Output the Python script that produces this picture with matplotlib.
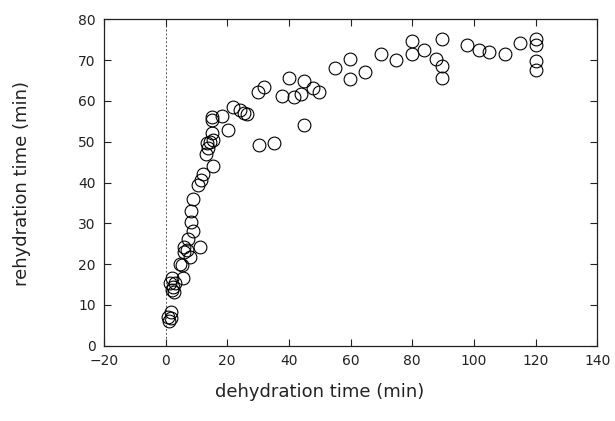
import matplotlib
matplotlib.use("Agg")
import matplotlib.pyplot as plt

# dehydration time (min)
dehydration = [
    0.9, 1.2, 1.7, 1.7, 1.5, 2.0, 2.5, 2.7, 3.1, 2.2,
    4.7, 5.8, 5.2, 6.0, 6.1, 6.8, 7.9, 7.2, 9.0, 11.2,
    8.2, 8.2, 9.0, 10.4, 11.5, 12.0, 15.3, 13.1, 13.9, 13.4,
    14.4, 15.3, 15.0, 15.0, 15.0, 18.2, 20.2, 22.0, 24.0,
    25.5, 26.3, 30.3, 35.2, 30.1, 32.0, 37.7, 40.0, 41.8, 43.9,
    44.9, 45.0, 47.7, 49.9, 54.9, 59.8, 59.8, 64.8, 69.9, 74.8,
    80.0, 80.0, 83.8, 87.7, 89.7, 89.7, 89.7, 97.8, 101.7, 104.9,
    110.0, 114.9, 120.0, 120.0, 120.0, 120.0,
]
# rehydration time (min)
rehydration = [
    7.1, 6.1, 6.7, 8.3, 15.4, 16.5, 14.4, 13.1, 15.3, 13.6,
    20.0, 16.5, 19.8, 23.0, 24.2, 23.4, 21.8, 26.1, 28.2, 24.2,
    30.4, 33.0, 35.9, 39.3, 40.5, 42.2, 44.1, 47.1, 48.4, 49.6,
    50.0, 50.4, 52.2, 55.3, 56.1, 56.3, 52.8, 58.4, 57.7,
    57.1, 56.9, 49.2, 49.8, 62.1, 63.3, 61.2, 65.7, 60.9, 61.6,
    64.9, 54.0, 63.1, 62.2, 68.0, 70.4, 65.3, 67.1, 71.4, 70.0,
    74.7, 71.5, 72.4, 70.4, 75.3, 68.6, 65.7, 73.8, 72.6, 72.1,
    71.4, 74.1, 75.3, 73.8, 69.8, 67.7,
]

x_ticks = [-20, 0, 20, 40, 60, 80, 100, 120, 140]
y_ticks = [0, 10, 20, 30, 40, 50, 60, 70, 80]

plt.rcParams['font.family'] = ['DejaVu Sans']

fig = plt.figure(figsize=(6.15, 4.21), dpi=100)
ax = fig.add_axes([0.169, 0.179, 0.802, 0.775])

ax.axvline(0, color='#555555', linestyle=(0, (2, 2)), linewidth=0.7, zorder=1)
ax.plot(dehydration, rehydration, linestyle='none', marker='o', markersize=9.2,
        markerfacecolor='none', markeredgecolor='black', markeredgewidth=0.8, zorder=2)

ax.set_xlim(-20, 140)
ax.set_ylim(0, 80)
ax.set_xticks(x_ticks)
ax.set_yticks(y_ticks)
ax.set_xticklabels(['\u2212' + str(-t) if t < 0 else str(t) for t in x_ticks])
ax.tick_params(direction='in', top=True, right=True, length=5, width=0.8,
               labelsize=10, colors='#222222', pad=6)
for s in ax.spines.values():
    s.set_linewidth(0.9)
    s.set_color('#222222')

fig.text(0.52, 0.07, 'dehydration time (min)', ha='center', va='center',
         fontsize=13, color='#222222')
fig.text(0.035, 0.565, 'rehydration time (min)', ha='center', va='center',
         rotation=90, fontsize=13, color='#222222')

fig.savefig('out.png', dpi=100)
